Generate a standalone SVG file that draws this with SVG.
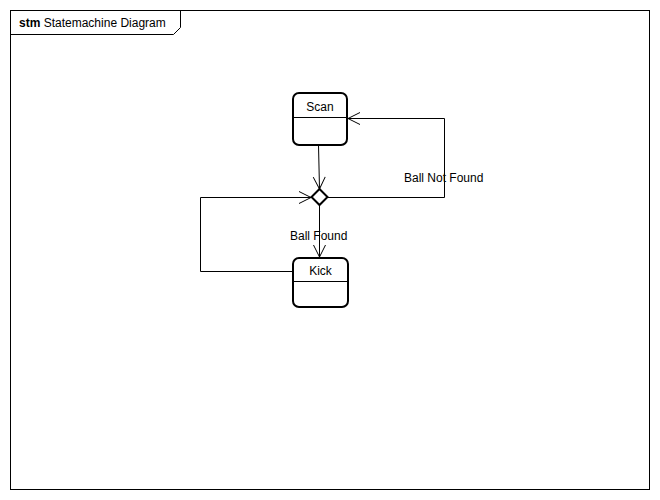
<svg xmlns="http://www.w3.org/2000/svg" width="660" height="500" viewBox="0 0 660 500">
  <style>
    text { font-family: "Liberation Sans", Arial, sans-serif; font-size: 12px; fill: #000; }
    .frame { fill: none; stroke: #000; stroke-width: 1; }
    .state { fill: #fff; stroke: #000; stroke-width: 2; }
    .divider { stroke: #000; stroke-width: 1; }
    .edge { fill: none; stroke: #000; stroke-width: 1; }
    .choice { fill: #fff; stroke: #000; stroke-width: 2; }
  </style>
  <defs>
    <marker id="open" viewBox="0 0 14 14" refX="13" refY="7" markerWidth="14" markerHeight="14" markerUnits="userSpaceOnUse" orient="auto">
      <path d="M1,1 L13,7 L1,13" fill="none" stroke="#000" stroke-width="1"/>
    </marker>
  </defs>

  <rect width="660" height="500" fill="#fff"/>

  <!-- diagram frame with name tab -->
  <g id="frame">
    <rect class="frame" x="10.5" y="10.5" width="639" height="479"/>
    <path class="frame" d="M10.5,34.5 H173.5 L180.5,27.5 V10.5"/>
    <text x="19" y="27"><tspan font-weight="bold">stm</tspan> Statemachine Diagram</text>
  </g>

  <!-- transitions -->
  <g id="connectors">
    <path class="edge" d="M318.5,145 L319.5,189" marker-end="url(#open)"/>
    <path class="edge" d="M319.5,205 L319.5,257" marker-end="url(#open)"/>
    <path class="edge" d="M327,197.5 H444.5 V118.5 H348" marker-end="url(#open)"/>
    <path class="edge" d="M293,271.5 H200.5 V197.5 H311" marker-end="url(#open)"/>
    <text x="404" y="182">Ball Not Found</text>
    <text x="290" y="240">Ball Found</text>
  </g>

  <g id="scan">
    <rect class="state" x="293" y="93" width="54" height="52" rx="6"/>
    <line class="divider" x1="293" y1="117.5" x2="347" y2="117.5"/>
    <text x="320" y="111" text-anchor="middle">Scan</text>
  </g>

  <g id="choice">
    <path class="choice" d="M319.5,189 L327.5,197 L319.5,205 L311.5,197 Z"/>
  </g>

  <g id="kick">
    <rect class="state" x="293" y="258" width="55" height="49" rx="6"/>
    <line class="divider" x1="293" y1="281.5" x2="348" y2="281.5"/>
    <text x="320.5" y="275" text-anchor="middle">Kick</text>
  </g>
</svg>
